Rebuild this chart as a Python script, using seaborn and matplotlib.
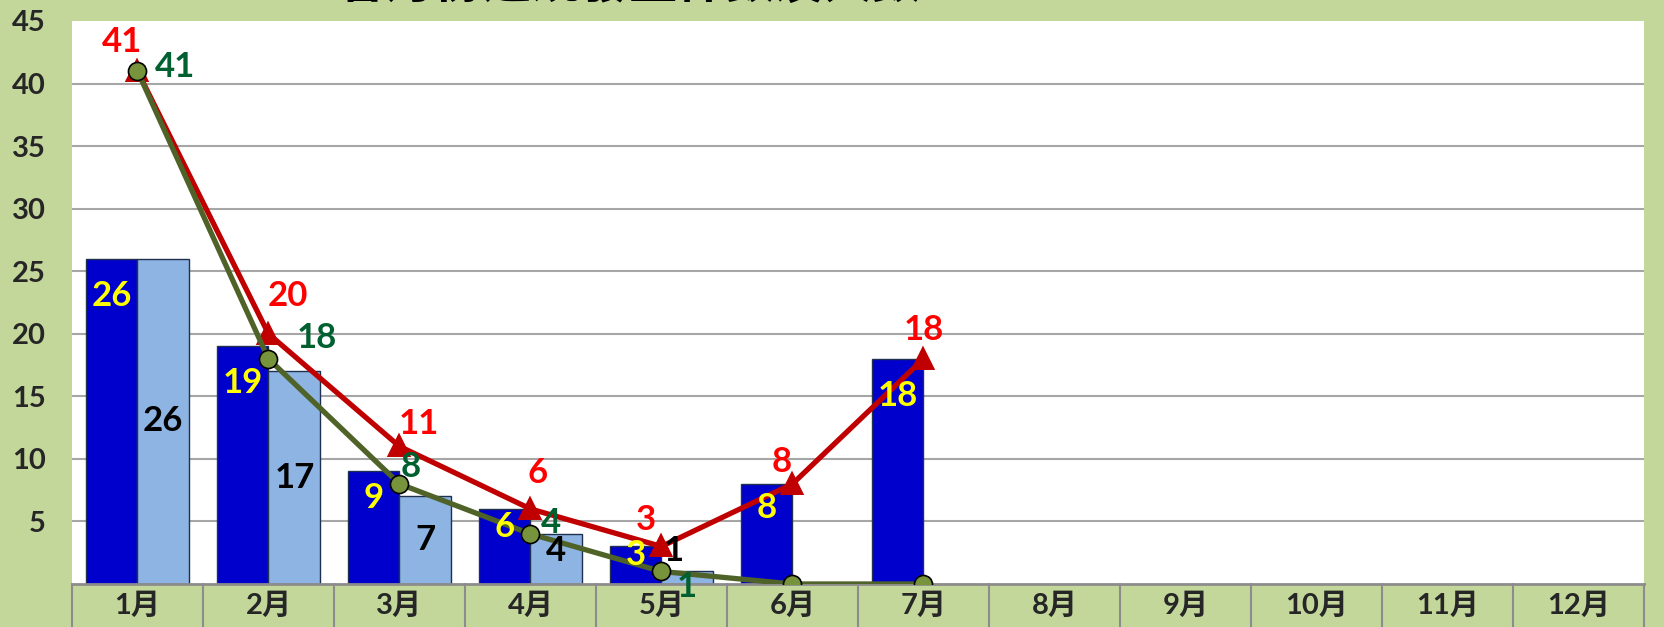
import numpy as np
import pandas as pd
import seaborn as sns
import matplotlib.pyplot as plt
import matplotlib.transforms as mtransforms

# data
months = [str(i) + '月' for i in range(1, 13)]
bar_dark = [26, 19, 9, 6, 3, 8, 18]
bar_light = [26, 17, 7, 4, 1, 0, 0]
line_red = [41, 20, 11, 6, 3, 8, 18]
line_green = [41, 18, 8, 4, 1, 0, 0]
title_txt = '各月份違規發生件數及人數'

# label offsets (points) for the line labels
red_off = [(-11, 21), (14, 27), (14, 16), (5, 26), (-11, 19), (-8, 16), (0, 21)]
green_off = [(27, 3), (35, 15), (8, 12), (15, 8), (18, -11), None, None]

sns.set_style('white')
plt.rcParams['font.family'] = ['Lato', 'Noto Sans CJK TC', 'DejaVu Sans']
plt.rcParams['font.weight'] = 'bold'

n = len(bar_dark)
df_bar = pd.DataFrame({'month': months[:n] * 2,
                       'value': bar_dark + bar_light,
                       'series': ['A'] * n + ['B'] * n})
df_red = pd.DataFrame({'month': months[:n], 'value': line_red})
df_green = pd.DataFrame({'month': months[:n], 'value': line_green})

bg = '#C4D79B'
fig = plt.figure(figsize=(16.65, 6.27), dpi=100, facecolor=bg)
ax = fig.add_axes([0.0432, 0.0686, 0.9442, 0.898])
ax.set_facecolor('white')

for yv in range(5, 45, 5):
    ax.axhline(yv, color='#A6A6A6', lw=1.5, zorder=0)

sns.barplot(data=df_bar, x='month', y='value', hue='series', order=months,
            hue_order=['A', 'B'], palette=['#0000CC', '#8DB4E2'],
            width=0.79, gap=0, edgecolor='#1F3050', linewidth=1,
            saturation=1, errorbar=None, legend=False, ax=ax, zorder=2)

sns.pointplot(data=df_red, x='month', y='value', order=months,
              color='#C00000', markers='^', errorbar=None, ax=ax,
              linewidth=3.8, markersize=13, zorder=4)
sns.pointplot(data=df_green, x='month', y='value', order=months,
              color='#4F6228', markers='o', errorbar=None, ax=ax,
              linewidth=3.8, markersize=13, markerfacecolor='#77933C',
              markeredgecolor='black', markeredgewidth=1.2, zorder=5)

# bar labels
fs = 25
for p, v in zip(ax.containers[0], bar_dark):
    xc = p.get_x() + p.get_width() / 2
    ax.text(xc, max(v - 2.95, v * 0.76), str(v), color='#FFFF00',
            ha='center', va='center', fontsize=fs, zorder=6)
for p, v in zip(ax.containers[1], bar_light):
    if v == 0:
        continue
    xc = p.get_x() + p.get_width() / 2
    if v < 2:
        xc -= 0.1
    ax.text(xc, max(v / 2, 2.6), str(v), color='black',
            ha='center', va='center', fontsize=fs, zorder=6)

# line labels
for i, v in enumerate(line_red):
    ax.annotate(str(v), (i, v), xytext=red_off[i], textcoords='offset points',
                color='#FF0000', ha='center', va='center', fontsize=fs, zorder=7)
for i, v in enumerate(line_green):
    if green_off[i] is None:
        continue
    ax.annotate(str(v), (i, v), xytext=green_off[i], textcoords='offset points',
                color='#006030', ha='center', va='center', fontsize=fs, zorder=7)

ax.set_xlim(-0.5, len(months) - 0.5)
ax.set_ylim(0, 45)
ax.set_yticks(range(5, 50, 5))
ax.set_xlabel('')
ax.set_ylabel('')
ax.tick_params(axis='y', length=0, pad=19, labelsize=21)
ax.tick_params(axis='x', length=0, pad=6, labelsize=21)
for s in ['top', 'right', 'left']:
    ax.spines[s].set_visible(False)
ax.spines['bottom'].set_color('#8C8C8C')
ax.spines['bottom'].set_linewidth(2)

# table-like cell borders under the axis
trans = mtransforms.blended_transform_factory(ax.transData, ax.transAxes)
for b in np.arange(-0.5, len(months), 1):
    ax.plot([b, b], [0, -0.08], color='#8C8C8C', lw=1.5,
            transform=trans, clip_on=False)

# title (cut off at top of the image)
fig.text(0.378, 1.003, title_txt, ha='center', va='baseline',
         fontsize=35, color='black')

fig.savefig('out.png', dpi=100, facecolor=bg)
